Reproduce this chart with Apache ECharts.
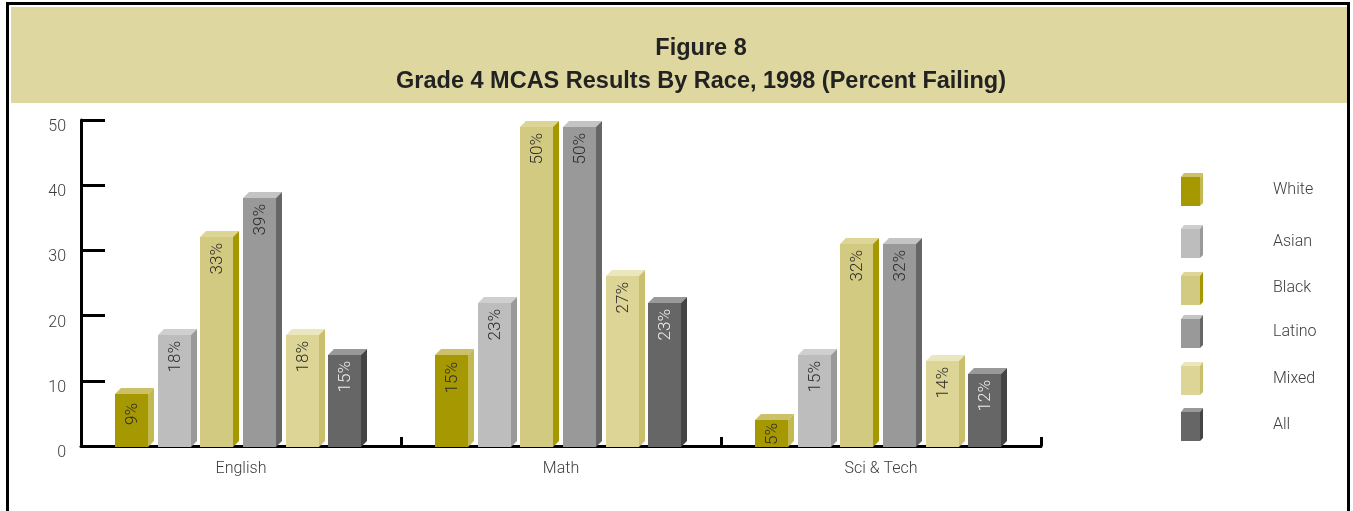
<!DOCTYPE html>
<html><head><meta charset="utf-8">
<style>html,body{margin:0;padding:0;background:#fff}#c{width:1353px;height:511px}</style>
<script src="https://cdn.jsdelivr.net/npm/echarts@6/dist/echarts.min.js"></script>
</head><body><div id="c"></div>
<script>
const categories = ['English', 'Math', 'Sci & Tech'];
const yTicks = [0, 10, 20, 30, 40, 50];
const white  = [8, 14, 4];
const asian  = [17, 22, 14];
const black  = [32, 49, 31];
const latino = [38, 49, 31];
const mixed  = [17, 26, 13];
const all    = [14, 22, 11];
const whiteLabels  = ['9%', '15%', '5%'];
const asianLabels  = ['18%', '23%', '15%'];
const blackLabels  = ['33%', '50%', '32%'];
const latinoLabels = ['39%', '50%', '32%'];
const mixedLabels  = ['18%', '27%', '14%'];
const allLabels    = ['15%', '23%', '12%'];

const font = 'Roboto,"Liberation Sans",sans-serif';
const textCol = '#3c3c3c';
const races = [
  {name:'White',  v:white,  l:whiteLabels,  front:'#A69800', top:'#CCC068', side:'#C4B850', txt:'#2c2c2c', ly:177, ty:190, gaps:[9,7,3]},
  {name:'Asian',  v:asian,  l:asianLabels,  front:'#BDBDBD', top:'#CFCFCF', side:'#999999', txt:'#2c2c2c', ly:229, ty:242},
  {name:'Black',  v:black,  l:blackLabels,  front:'#D2CA80', top:'#DCD596', side:'#A69800', txt:'#2c2c2c', ly:276, ty:288},
  {name:'Latino', v:latino, l:latinoLabels, front:'#999999', top:'#C4C4C4', side:'#666666', txt:'#2c2c2c', ly:319, ty:332},
  {name:'Mixed',  v:mixed,  l:mixedLabels,  front:'#DCD596', top:'#EAE6BE', side:'#C9BF6C', txt:'#2c2c2c', ly:366, ty:379},
  {name:'All',    v:all,    l:allLabels,    front:'#666666', top:'#999999', side:'#444444', txt:'#eeeeee', ly:412, ty:425}
];
const BW = 33, D = 6, PITCH = 42.7;

function renderBar(r, i) {
  return function (params, api) {
    const cat = api.value(0);
    const c = api.coord([cat, api.value(1)]);
    const base = api.coord([cat, 0])[1] + 1;
    const x0 = Math.round(c[0] - 126.2 + i * PITCH);
    const x1 = x0 + BW, y = Math.round(c[1]);
    const gap = r.gaps ? r.gaps[params.dataIndex] : 6;
    return {type:'group', children:[
      {type:'polygon', shape:{points:[[x0,y],[x0+D,y-D],[x1+D,y-D],[x1,y]]}, style:{fill:r.top}},
      {type:'polygon', shape:{points:[[x1,y],[x1+D,y-D],[x1+D,base-D],[x1,base]]}, style:{fill:r.side}},
      {type:'rect', shape:{x:x0,y:y,width:BW,height:base-y}, style:{fill:r.front}},
      {type:'text', x:x0+BW/2+1.5, y:y+gap, rotation:Math.PI/2,
       style:{text:r.l[params.dataIndex], fill:r.txt, font:'300 17px '+font, align:'right', verticalAlign:'middle'}}
    ]};
  };
}

const legendEls = [];
races.forEach(function (r) {
  const x0 = 1181, x1 = 1200, y = r.ly, b = y + 29, d = 3;
  legendEls.push(
    {type:'polygon', shape:{points:[[x0,y],[x0+d,y-d-1],[x1+d,y-d-1],[x1,y]]}, style:{fill:r.top}},
    {type:'polygon', shape:{points:[[x1,y],[x1+d,y-d-1],[x1+d,b-d],[x1,b]]}, style:{fill:r.side}},
    {type:'rect', shape:{x:x0,y:y,width:x1-x0,height:b-y}, style:{fill:r.front}},
    {type:'text', x:1273, y:r.ty, style:{text:r.name, fill:textCol, font:'300 16px '+font, align:'left', verticalAlign:'middle'}}
  );
});

const chart = echarts.init(document.getElementById('c'));
chart.setOption({
  animation:false,
  backgroundColor:'#fff',
  title:{text:'Figure 8\nGrade 4 MCAS Results By Race, 1998 (Percent Failing)',
    left:696, top:27, textAlign:'center',
    textStyle:{fontFamily:'"Liberation Sans",Arial,sans-serif', fontWeight:'bold', fontSize:23.5, lineHeight:33, color:'#222'}},
  grid:{left:81, right:312, top:120, height:326, containLabel:false},
  xAxis:{type:'category', data:categories, boundaryGap:true,
    axisLine:{lineStyle:{color:'#000', width:3}},
    axisTick:{show:true, inside:true, length:9, alignWithLabel:false, lineStyle:{color:'#000', width:3}},
    axisLabel:{color:textCol, fontFamily:font, fontWeight:300, fontSize:16, margin:15}},
  yAxis:{type:'value', min:0, max:50, interval:10,
    splitLine:{show:false},
    axisLine:{show:true, lineStyle:{color:'#000', width:3}},
    axisTick:{show:true, inside:true, length:24, lineStyle:{color:'#000', width:3}},
    axisLabel:{color:textCol, fontFamily:font, fontWeight:300, fontSize:16, margin:15,
      verticalAlign:'top', lineHeight:14,
      formatter:function (v) { return yTicks.indexOf(v) >= 0 ? String(v) : ''; }}},
  series:races.map(function (r, i) {
    return {type:'custom', name:r.name, clip:false, z:3,
      renderItem:renderBar(r, i),
      encode:{x:0, y:1},
      data:r.v.map(function (v, k) { return [k, v]; })};
  }),
  graphic:{elements:[
    {type:'rect', z:-1, shape:{x:11,y:7,width:1336,height:96}, style:{fill:'#DED7A0'}},
    {type:'rect', z:-1, shape:{x:6,y:2,width:1344,height:3}, style:{fill:'#000'}},
    {type:'rect', z:-1, shape:{x:6,y:2,width:3,height:509}, style:{fill:'#000'}},
    {type:'rect', z:-1, shape:{x:1347,y:2,width:3,height:509}, style:{fill:'#000'}}
  ].concat(legendEls)}
});
</script></body></html>
